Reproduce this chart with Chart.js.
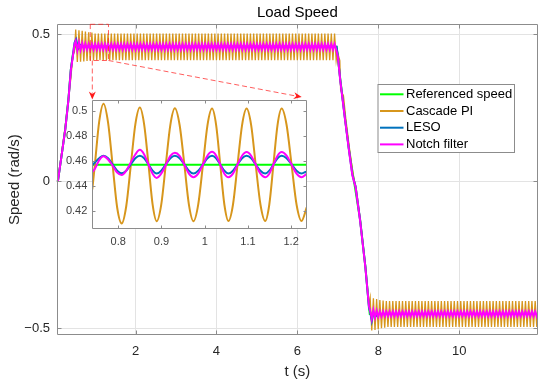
<!DOCTYPE html>
<html>
<head>
<meta charset="utf-8">
<script src="https://cdn.jsdelivr.net/npm/chart.js@4.4.1/dist/chart.umd.min.js"></script>
<style>
  body { margin: 0; background: #fff; }
  #wrap { position: relative; width: 550px; height: 386px; background: #fff; }
  #wrap canvas { position: absolute; left: 0; top: 0; }
</style>
</head>
<body>
<div id="wrap">
  <canvas id="main" width="550" height="386"></canvas>
  <canvas id="inset" width="252" height="162"></canvas>
</div>
<script>
const FONT = "'Liberation Sans', Arial, Helvetica, sans-serif";

const seriesNames = ['Referenced speed', 'Cascade PI', 'LESO', 'Notch filter'];
const seriesColors = ['#00ff00', '#d7961c', '#0072bd', '#ff00ff'];

const xTicks = [2, 4, 6, 8, 10];
const xTickLabels = ['2', '4', '6', '8', '10'];
const yTicks = [-0.5, 0, 0.5];
const yTickLabels = ['\u22120.5', '0', '0.5'];

const insetXTicks = [0.8, 0.9, 1, 1.1, 1.2];
const insetXTickLabels = ['0.8', '0.9', '1', '1.1', '1.2'];
const insetYTicks = [0.42, 0.44, 0.46, 0.48, 0.5];
const insetYTickLabels = ['0.42', '0.44', '0.46', '0.48', '0.5'];

// referenced speed
const refT = [0.05, 0.08, 0.17, 0.26, 0.34, 0.40, 0.45, 0.50, 6.97, 7.06, 7.18, 7.28, 7.40, 7.55, 7.68, 7.79, 11.95];
const refV = [0, 0, 0.087, 0.174, 0.277, 0.38, 0.428, 0.457, 0.457, 0.348, 0.212, 0.104, 0.0, -0.13, -0.288, -0.452, -0.452];

// start-up ramp
const rampUpT = [0.05, 0.08, 0.17, 0.26, 0.34, 0.40, 0.45, 0.49];
const cascadeUp = [0, 0, 0.095, 0.185, 0.28, 0.35, 0.43, 0.44];
const lesoUp = [0, 0, 0.087, 0.175, 0.277, 0.38, 0.43, 0.47];
const notchUp = [0, 0, 0.087, 0.173, 0.275, 0.377, 0.423, 0.465];

// LESO settling after the ramp
const lesoSettleT = [0.53, 0.58, 0.64, 0.70, 6.97];
const lesoSettle = [0.482, 0.450, 0.462, 0.457, 0.457];

// oscillation extremes on the +0.46 plateau
const plateauT = [
  0.52,0.56,0.60,0.64,0.68,0.72,0.76,0.80,0.84,0.88,
  0.92,0.96,1.00,1.04,1.08,1.12,1.16,1.20,1.24,1.28,
  1.32,1.36,1.40,1.44,1.48,1.52,1.56,1.60,1.64,1.68,
  1.72,1.76,1.80,1.84,1.88,1.92,1.96,2.00,2.04,2.08,
  2.12,2.16,2.20,2.24,2.28,2.32,2.36,2.40,2.44,2.48,
  2.52,2.56,2.60,2.64,2.68,2.72,2.76,2.80,2.84,2.88,
  2.92,2.96,3.00,3.04,3.08,3.12,3.16,3.20,3.24,3.28,
  3.32,3.36,3.40,3.44,3.48,3.52,3.56,3.60,3.64,3.68,
  3.72,3.76,3.80,3.84,3.88,3.92,3.96,4.00,4.04,4.08,
  4.12,4.16,4.20,4.24,4.28,4.32,4.36,4.40,4.44,4.48,
  4.52,4.56,4.60,4.64,4.68,4.72,4.76,4.80,4.84,4.88,
  4.92,4.96,5.00,5.04,5.08,5.12,5.16,5.20,5.24,5.28,
  5.32,5.36,5.40,5.44,5.48,5.52,5.56,5.60,5.64,5.68,
  5.72,5.76,5.80,5.84,5.88,5.92,5.96,6.00,6.04,6.08,
  6.12,6.16,6.20,6.24,6.28,6.32,6.36,6.40,6.44,6.48,
  6.52,6.56,6.60,6.64,6.68,6.72,6.76,6.80,6.84,6.88,
  6.92,6.96
];
const cascadeHigh = [
  0.515,0.405,0.513,0.406,0.511,0.407,0.508,0.408,0.506,0.409,
  0.505,0.410,0.502,0.411,0.502,0.411,0.502,0.411,0.502,0.411,
  0.502,0.411,0.502,0.411,0.502,0.411,0.502,0.411,0.502,0.411,
  0.502,0.411,0.502,0.411,0.502,0.411,0.502,0.411,0.502,0.411,
  0.502,0.411,0.502,0.411,0.502,0.411,0.502,0.411,0.502,0.411,
  0.502,0.411,0.502,0.411,0.502,0.411,0.502,0.411,0.502,0.411,
  0.502,0.411,0.502,0.411,0.502,0.411,0.502,0.411,0.502,0.411,
  0.502,0.411,0.502,0.411,0.502,0.411,0.502,0.411,0.502,0.411,
  0.502,0.411,0.502,0.411,0.502,0.411,0.502,0.411,0.502,0.411,
  0.502,0.411,0.502,0.411,0.502,0.411,0.502,0.411,0.502,0.411,
  0.502,0.411,0.502,0.411,0.502,0.411,0.502,0.411,0.502,0.411,
  0.502,0.411,0.502,0.411,0.502,0.411,0.502,0.411,0.502,0.411,
  0.502,0.411,0.502,0.411,0.502,0.411,0.502,0.411,0.502,0.411,
  0.502,0.411,0.502,0.411,0.502,0.411,0.502,0.411,0.502,0.411,
  0.502,0.411,0.502,0.411,0.502,0.411,0.502,0.411,0.502,0.411,
  0.502,0.411,0.502,0.411,0.502,0.411,0.502,0.411,0.502,0.411,
  0.502,0.411
];
const notchHigh = [
  0.476,0.444,0.472,0.446,0.469,0.447,0.467,0.447,0.466,0.447,
  0.466,0.447,0.466,0.447,0.466,0.447,0.466,0.447,0.466,0.447,
  0.466,0.447,0.466,0.447,0.466,0.447,0.466,0.447,0.466,0.447,
  0.466,0.447,0.466,0.447,0.466,0.447,0.466,0.447,0.466,0.447,
  0.466,0.447,0.466,0.447,0.466,0.447,0.466,0.447,0.466,0.447,
  0.466,0.447,0.466,0.447,0.466,0.447,0.466,0.447,0.466,0.447,
  0.466,0.447,0.466,0.447,0.466,0.447,0.466,0.447,0.466,0.447,
  0.466,0.447,0.466,0.447,0.466,0.447,0.466,0.447,0.466,0.447,
  0.466,0.447,0.466,0.447,0.466,0.447,0.466,0.447,0.466,0.447,
  0.466,0.447,0.466,0.447,0.466,0.447,0.466,0.447,0.466,0.447,
  0.466,0.447,0.466,0.447,0.466,0.447,0.466,0.447,0.466,0.447,
  0.466,0.447,0.466,0.447,0.466,0.447,0.466,0.447,0.466,0.447,
  0.466,0.447,0.466,0.447,0.466,0.447,0.466,0.447,0.466,0.447,
  0.466,0.447,0.466,0.447,0.466,0.447,0.466,0.447,0.466,0.447,
  0.466,0.447,0.466,0.447,0.466,0.447,0.466,0.447,0.466,0.447,
  0.466,0.447,0.466,0.447,0.466,0.447,0.466,0.447,0.466,0.447,
  0.466,0.447
];

// speed reversal ramp
const rampDownT = [7.00, 7.06, 7.12, 7.18, 7.28, 7.36, 7.40, 7.44, 7.55, 7.68, 7.77];
const lesoDown = [0.428, 0.345, 0.278, 0.210, 0.103, 0.022, 0.002, -0.018, -0.130, -0.288, -0.430];
const notchDown = [0.425, 0.343, 0.275, 0.207, 0.100, 0.020, 0.000, -0.020, -0.133, -0.291, -0.425];
const cascadeDownT = [6.99, 7.05, 7.07, 7.14, 7.17, 7.20, 7.29, 7.37, 7.41, 7.45, 7.55, 7.68, 7.77];
const cascadeDown = [0.44, 0.41, 0.31, 0.29, 0.25, 0.21, 0.11, 0.03, 0.0, -0.02, -0.125, -0.285, -0.42];

// oscillation extremes on the -0.45 plateau
const lowT = [
  7.80,7.84,7.88,7.92,7.96,8.00,8.04,8.08,8.12,8.16,
  8.20,8.24,8.28,8.32,8.36,8.40,8.44,8.48,8.52,8.56,
  8.60,8.64,8.68,8.72,8.76,8.80,8.84,8.88,8.92,8.96,
  9.00,9.04,9.08,9.12,9.16,9.20,9.24,9.28,9.32,9.36,
  9.40,9.44,9.48,9.52,9.56,9.60,9.64,9.68,9.72,9.76,
  9.80,9.84,9.88,9.92,9.96,10.00,10.04,10.08,10.12,10.16,
  10.20,10.24,10.28,10.32,10.36,10.40,10.44,10.48,10.52,10.56,
  10.60,10.64,10.68,10.72,10.76,10.80,10.84,10.88,10.92,10.96,
  11.00,11.04,11.08,11.12,11.16,11.20,11.24,11.28,11.32,11.36,
  11.40,11.44,11.48,11.52,11.56,11.60,11.64,11.68,11.72,11.76,
  11.80,11.84,11.88,11.92,11.96
];
const cascadeLow = [
  -0.396,-0.508,-0.398,-0.506,-0.401,-0.503,-0.404,-0.500,-0.406,-0.498,
  -0.408,-0.496,-0.408,-0.496,-0.408,-0.496,-0.408,-0.496,-0.408,-0.496,
  -0.408,-0.496,-0.408,-0.496,-0.408,-0.496,-0.408,-0.496,-0.408,-0.496,
  -0.408,-0.496,-0.408,-0.496,-0.408,-0.496,-0.408,-0.496,-0.408,-0.496,
  -0.408,-0.496,-0.408,-0.496,-0.408,-0.496,-0.408,-0.496,-0.408,-0.496,
  -0.408,-0.496,-0.408,-0.496,-0.408,-0.496,-0.408,-0.496,-0.408,-0.496,
  -0.408,-0.496,-0.408,-0.496,-0.408,-0.496,-0.408,-0.496,-0.408,-0.496,
  -0.408,-0.496,-0.408,-0.496,-0.408,-0.496,-0.408,-0.496,-0.408,-0.496,
  -0.408,-0.496,-0.408,-0.496,-0.408,-0.496,-0.408,-0.496,-0.408,-0.496,
  -0.408,-0.496,-0.408,-0.496,-0.408,-0.496,-0.408,-0.496,-0.408,-0.496,
  -0.408,-0.496,-0.408,-0.496,-0.408
];
const notchLow = [
  -0.440,-0.468,-0.438,-0.464,-0.441,-0.461,-0.443,-0.460,-0.443,-0.459,
  -0.443,-0.459,-0.443,-0.459,-0.443,-0.459,-0.443,-0.459,-0.443,-0.459,
  -0.443,-0.459,-0.443,-0.459,-0.443,-0.459,-0.443,-0.459,-0.443,-0.459,
  -0.443,-0.459,-0.443,-0.459,-0.443,-0.459,-0.443,-0.459,-0.443,-0.459,
  -0.443,-0.459,-0.443,-0.459,-0.443,-0.459,-0.443,-0.459,-0.443,-0.459,
  -0.443,-0.459,-0.443,-0.459,-0.443,-0.459,-0.443,-0.459,-0.443,-0.459,
  -0.443,-0.459,-0.443,-0.459,-0.443,-0.459,-0.443,-0.459,-0.443,-0.459,
  -0.443,-0.459,-0.443,-0.459,-0.443,-0.459,-0.443,-0.459,-0.443,-0.459,
  -0.443,-0.459,-0.443,-0.459,-0.443,-0.459,-0.443,-0.459,-0.443,-0.459,
  -0.443,-0.459,-0.443,-0.459,-0.443,-0.459,-0.443,-0.459,-0.443,-0.459,
  -0.443,-0.459,-0.443,-0.459,-0.443
];
const lesoLowT = [7.80, 7.84, 7.88, 7.93, 8.00, 11.95];
const lesoLow = [-0.445, -0.475, -0.448, -0.460, -0.452, -0.452];

// inset: zoom on t = 0.74 .. 1.24
const insetRefT = [0.74, 1.24];
const insetRef = [0.4567, 0.4567];
const insetT = [
  0.740, 0.746, 0.756, 0.766, 0.7765, 0.787, 0.7975, 0.808, 0.8185, 0.829,
  0.8395, 0.850, 0.860, 0.870, 0.8795, 0.889, 0.8995, 0.910, 0.9205, 0.931,
  0.942, 0.953, 0.9635, 0.974, 0.985, 0.996, 1.0065, 1.017, 1.0265, 1.036,
  1.0455, 1.055, 1.0655, 1.076, 1.0865, 1.097, 1.1075, 1.118, 1.129, 1.140,
  1.1495, 1.159, 1.1685, 1.178, 1.1895, 1.201, 1.2125, 1.224, 1.236
];
const insetCascade = [
  0.437, 0.457, 0.4915, 0.5057, 0.4905, 0.4565, 0.4225, 0.4097, 0.4235, 0.456,
  0.489, 0.5026, 0.489, 0.457, 0.425, 0.4115, 0.4248, 0.4568, 0.4886, 0.502,
  0.4886, 0.4568, 0.4248, 0.4115, 0.4248, 0.4568, 0.4886, 0.5018, 0.4886, 0.4568,
  0.4249, 0.4117, 0.4249, 0.4568, 0.4886, 0.5018, 0.4886, 0.4568, 0.4249, 0.4117,
  0.4249, 0.4568, 0.4886, 0.5018, 0.4886, 0.4568, 0.4249, 0.4117, 0.4225
];
const insetLeso = [
  0.4565, 0.4585, 0.462, 0.4639, 0.462, 0.457, 0.452, 0.4499, 0.452, 0.457,
  0.462, 0.464, 0.462, 0.457, 0.452, 0.4497, 0.452, 0.457, 0.462, 0.464,
  0.462, 0.457, 0.452, 0.4497, 0.452, 0.457, 0.462, 0.464, 0.462, 0.457,
  0.452, 0.4497, 0.452, 0.457, 0.462, 0.464, 0.462, 0.457, 0.452, 0.4497,
  0.452, 0.457, 0.462, 0.464, 0.462, 0.457, 0.452, 0.4497, 0.4515
];
const insetNotch = [
  0.451, 0.4535, 0.4605, 0.4636, 0.461, 0.456, 0.4505, 0.4485, 0.452, 0.4586,
  0.465, 0.4687, 0.465, 0.457, 0.4495, 0.4462, 0.4496, 0.4565, 0.4638, 0.4663,
  0.4638, 0.4567, 0.4496, 0.4467, 0.4496, 0.4569, 0.4641, 0.4671, 0.4641, 0.4569,
  0.4496, 0.4467, 0.4496, 0.4569, 0.464, 0.467, 0.464, 0.4569, 0.4496, 0.4467,
  0.4496, 0.4569, 0.464, 0.467, 0.464, 0.4569, 0.4496, 0.4467, 0.4495
];

// red dashed zoom box in the main axes (data units)
const zoomBoxT = [0.88, 1.33];
const zoomBoxV = [0.41, 0.533];

const insetPos = { left: 60, top: 88 };

const pts = (ts, vs) => ts.map((t, i) => ({ x: t, y: vs[i] }));

const frame = {
  id: 'frame',
  beforeDraw(chart, args, o) {
    if (!o.fill) return;
    const { ctx, chartArea: a } = chart;
    ctx.save();
    ctx.fillStyle = o.fill;
    ctx.fillRect(a.left, a.top, a.width, a.height);
    ctx.restore();
  },
  afterDatasetsDraw(chart, args, o) {
    const { ctx, chartArea: a, scales: { x, y } } = chart;
    const L = Math.round(a.left) + 0.5, R = Math.round(a.right) - 0.5;
    const T = Math.round(a.top) + 0.5, B = Math.round(a.bottom) - 0.5;
    ctx.save();
    ctx.strokeStyle = o.color;
    ctx.lineWidth = 1;
    ctx.beginPath();
    x.ticks.forEach(t => {
      const p = Math.round(x.getPixelForValue(t.value)) + 0.5;
      ctx.moveTo(p, B); ctx.lineTo(p, B - o.len);
      ctx.moveTo(p, T); ctx.lineTo(p, T + o.len);
    });
    y.ticks.forEach(t => {
      const p = Math.round(y.getPixelForValue(t.value)) + 0.5;
      ctx.moveTo(L, p); ctx.lineTo(L + o.len, p);
      ctx.moveTo(R, p); ctx.lineTo(R - o.len, p);
    });
    ctx.rect(L, T, R - L, B - T);
    ctx.stroke();
    ctx.restore();
  }
};

const insetChart = new Chart(document.getElementById('inset'), {
  type: 'line',
  data: {
    datasets: [
      { label: seriesNames[0], data: pts(insetRefT, insetRef), borderColor: seriesColors[0], order: 4 },
      { label: seriesNames[1], data: pts(insetT, insetCascade), borderColor: seriesColors[1], order: 3 },
      { label: seriesNames[2], data: pts(insetT, insetLeso), borderColor: seriesColors[2], order: 2 },
      { label: seriesNames[3], data: pts(insetT, insetNotch), borderColor: seriesColors[3], order: 1 }
    ]
  },
  options: {
    responsive: false,
    animation: false,
    events: [],
    layout: { padding: { top: 5.5, right: 5.3, left: 0, bottom: 0 } },
    elements: {
      point: { radius: 0 },
      line: { borderWidth: 2, cubicInterpolationMode: 'monotone' }
    },
    plugins: {
      legend: { display: false },
      tooltip: { enabled: false },
      frame: { color: '#8c8c8c', len: 3, fill: '#ffffff' }
    },
    scales: {
      x: {
        type: 'linear', min: 0.74, max: 1.236,
        afterBuildTicks: s => { s.ticks = insetXTicks.map(v => ({ value: v })); },
        afterFit: s => { s.height = 20.7; },
        grid: { display: false, drawTicks: false },
        border: { display: false },
        ticks: {
          color: '#404040', font: { family: FONT, size: 11 }, padding: 5.8,
          maxRotation: 0, autoSkip: false, callback: (v, i) => insetXTickLabels[i]
        }
      },
      y: {
        min: 0.405, max: 0.509,
        afterBuildTicks: s => { s.ticks = insetYTicks.map(v => ({ value: v })); },
        afterFit: s => { s.width = 32.3; },
        grid: { display: false, drawTicks: false },
        border: { display: false },
        ticks: {
          color: '#404040', font: { family: FONT, size: 11 }, padding: 5,
          autoSkip: false, callback: (v, i) => insetYTickLabels[i]
        }
      }
    }
  },
  plugins: [frame]
});

const zoomMarks = {
  id: 'zoomMarks',
  afterDraw(chart, args, o) {
    const { ctx, scales: { x, y } } = chart;
    const l = x.getPixelForValue(zoomBoxT[0]), r = x.getPixelForValue(zoomBoxT[1]);
    const t = y.getPixelForValue(zoomBoxV[1]), b = y.getPixelForValue(zoomBoxV[0]);
    const ia = insetChart.chartArea;
    const il = insetPos.left + ia.left, ir = insetPos.left + ia.right, it = insetPos.top + ia.top;
    ctx.save();
    ctx.strokeStyle = o.color;
    ctx.lineWidth = 1;
    ctx.setLineDash(o.dash);
    ctx.strokeRect(l, t, r - l, b - t);
    const arrows = [[il, b, il, it], [r, b, ir - 5, it - 2.5]];
    arrows.forEach(([x0, y0, x1, y1]) => {
      const ang = Math.atan2(y1 - y0, x1 - x0);
      const c = Math.cos(ang), s = Math.sin(ang);
      ctx.setLineDash(o.dash);
      ctx.strokeStyle = o.color;
      ctx.beginPath();
      ctx.moveTo(x0, y0);
      ctx.lineTo(x1 - 6 * c, y1 - 6 * s);
      ctx.stroke();
      ctx.setLineDash([]);
      ctx.fillStyle = o.head;
      ctx.beginPath();
      ctx.moveTo(x1, y1);
      ctx.lineTo(x1 - 8 * c + 3.5 * s, y1 - 8 * s - 3.5 * c);
      ctx.lineTo(x1 - 5.5 * c, y1 - 5.5 * s);
      ctx.lineTo(x1 - 8 * c - 3.5 * s, y1 - 8 * s + 3.5 * c);
      ctx.closePath();
      ctx.fill();
    });
    ctx.restore();
  }
};

const boxLegend = {
  id: 'boxLegend',
  afterDraw(chart, args, o) {
    const { ctx } = chart;
    ctx.save();
    ctx.fillStyle = '#ffffff';
    ctx.fillRect(o.left, o.top, o.width, o.height);
    ctx.strokeStyle = o.border;
    ctx.lineWidth = 1;
    ctx.strokeRect(o.left + 0.5, o.top + 0.5, o.width, o.height);
    ctx.font = o.fontSize + 'px ' + FONT;
    ctx.textBaseline = 'middle';
    chart.data.datasets.forEach((ds, i) => {
      const yy = o.top + o.firstRow + i * o.rowH;
      ctx.strokeStyle = ds.borderColor;
      ctx.lineWidth = 2;
      ctx.beginPath();
      ctx.moveTo(o.left + 2.5, yy);
      ctx.lineTo(o.left + 26, yy);
      ctx.stroke();
      ctx.fillStyle = o.textColor;
      ctx.fillText(ds.label, o.left + 28.5, yy);
    });
    ctx.restore();
  }
};

document.getElementById('inset').style.left = insetPos.left + 'px';
document.getElementById('inset').style.top = insetPos.top + 'px';

new Chart(document.getElementById('main'), {
  type: 'line',
  data: {
    datasets: [
      {
        label: seriesNames[0], order: 4, borderColor: seriesColors[0], borderWidth: 2,
        data: pts(refT, refV)
      },
      {
        label: seriesNames[1], order: 3, borderColor: seriesColors[1], borderWidth: 1.3,
        data: [...pts(rampUpT, cascadeUp), ...pts(plateauT, cascadeHigh),
               ...pts(cascadeDownT, cascadeDown), ...pts(lowT, cascadeLow)]
      },
      {
        label: seriesNames[2], order: 2, borderColor: seriesColors[2], borderWidth: 2,
        data: [...pts(rampUpT, lesoUp), ...pts(lesoSettleT, lesoSettle),
               ...pts(rampDownT, lesoDown), ...pts(lesoLowT, lesoLow)]
      },
      {
        label: seriesNames[3], order: 1, borderColor: seriesColors[3], borderWidth: 2,
        data: [...pts(rampUpT, notchUp), ...pts(plateauT, notchHigh),
               ...pts(rampDownT, notchDown), ...pts(lowT, notchLow)]
      }
    ]
  },
  options: {
    responsive: false,
    animation: false,
    events: [],
    layout: { padding: { top: 0, right: 12, left: 0, bottom: 0 } },
    elements: { point: { radius: 0 }, line: { tension: 0 } },
    plugins: {
      legend: { display: false },
      tooltip: { enabled: false },
      title: {
        display: true, text: 'Load Speed', fullSize: false, color: '#000000',
        font: { family: FONT, size: 15, weight: 'normal' },
        padding: { top: 4, bottom: 2.3 }
      },
      frame: { color: '#8c8c8c', len: 4 },
      zoomMarks: { color: 'rgba(255, 40, 40, 0.75)', head: '#ff1a1a', dash: [5, 3] },
      boxLegend: {
        left: 377.5, top: 84, width: 136.5, height: 68, firstRow: 10.3, rowH: 16.7,
        fontSize: 13, border: '#8c8c8c', textColor: '#000000'
      }
    },
    scales: {
      x: {
        type: 'linear', min: 0.05, max: 11.95,
        afterBuildTicks: s => { s.ticks = xTicks.map(v => ({ value: v })); },
        afterFit: s => { s.height = 51; },
        grid: { color: '#e3e3e3', drawTicks: false },
        border: { display: false },
        ticks: {
          color: '#262626', font: { family: FONT, size: 13 }, padding: 9,
          maxRotation: 0, autoSkip: false, callback: (v, i) => xTickLabels[i]
        },
        title: {
          display: true, text: 't (s)', color: '#262626',
          font: { family: FONT, size: 15 }, padding: { top: 0, bottom: 5.3 }
        }
      },
      y: {
        min: -0.523, max: 0.533,
        afterBuildTicks: s => { s.ticks = yTicks.map(v => ({ value: v })); },
        afterFit: s => { s.width = 56.7; },
        grid: { color: '#e3e3e3', drawTicks: false },
        border: { display: false },
        ticks: {
          color: '#262626', font: { family: FONT, size: 13 }, padding: 6.7,
          autoSkip: false, callback: (v, i) => yTickLabels[i]
        },
        title: {
          display: true, text: 'Speed (rad/s)', color: '#262626',
          font: { family: FONT, size: 15 }, padding: { top: 6, bottom: 0 }
        }
      }
    }
  },
  plugins: [frame, zoomMarks, boxLegend]
});
</script>
</body>
</html>
